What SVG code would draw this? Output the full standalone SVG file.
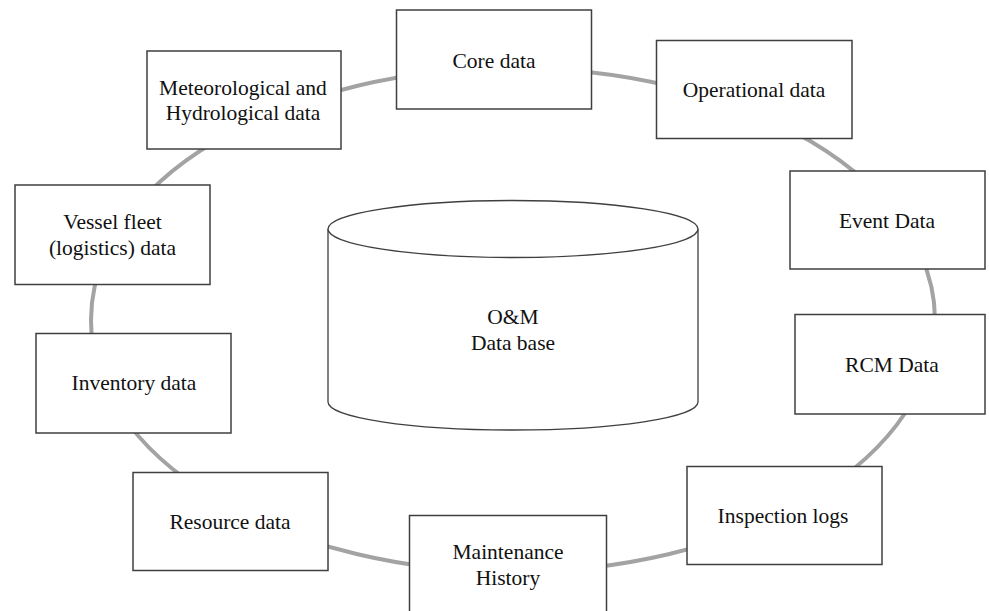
<svg xmlns="http://www.w3.org/2000/svg" width="989" height="611" viewBox="0 0 989 611">
<style>
.box{fill:#fff;stroke:#3f3f3f;stroke-width:1.5}
.t{font-family:"Liberation Serif","Times New Roman",serif;font-size:21.5px;fill:#111;text-anchor:middle}
.ring{fill:none;stroke:#a3a3a3;stroke-width:4}
.cyl{fill:#fff;stroke:#3f3f3f;stroke-width:1.3}
</style>
<rect width="989" height="611" fill="#fff"/>
<g id="connectors">
<ellipse class="ring" cx="513" cy="320" rx="422" ry="252"/>
</g>
<g id="database">
<path class="cyl" d="M328,229 L328,402 A185,28 0 0 0 698,402 L698,229"/>
<ellipse class="cyl" cx="513" cy="229" rx="185" ry="28.5"/>
<text class="t" x="513" y="324">O&amp;M</text>
<text class="t" x="513" y="350">Data base</text>
</g>
<g id="core">
<rect class="box" x="396.5" y="10" width="195" height="99"/>
<text class="t" x="494" y="68">Core data</text>
</g>
<g id="operational">
<rect class="box" x="656.5" y="40.5" width="195.5" height="98"/>
<text class="t" x="754" y="97">Operational data</text>
</g>
<g id="event">
<rect class="box" x="790" y="171" width="195" height="98"/>
<text class="t" x="887" y="228">Event Data</text>
</g>
<g id="rcm">
<rect class="box" x="795" y="314.5" width="190" height="99.5"/>
<text class="t" x="892" y="372">RCM Data</text>
</g>
<g id="inspection">
<rect class="box" x="687" y="466.5" width="195" height="98"/>
<text class="t" x="783" y="523">Inspection logs</text>
</g>
<g id="maintenance">
<rect class="box" x="409.5" y="515.5" width="197" height="100"/>
<text class="t" x="508" y="559">Maintenance</text>
<text class="t" x="508" y="585">History</text>
</g>
<g id="resource">
<rect class="box" x="133" y="472.5" width="195" height="98"/>
<text class="t" x="230" y="529">Resource data</text>
</g>
<g id="inventory">
<rect class="box" x="36" y="333.5" width="195" height="99.5"/>
<text class="t" x="134" y="390">Inventory data</text>
</g>
<g id="vessel">
<rect class="box" x="15" y="185" width="195" height="99.5"/>
<text class="t" x="112.5" y="229">Vessel fleet</text>
<text class="t" x="112.5" y="255">(logistics) data</text>
</g>
<g id="meteo">
<rect class="box" x="147" y="51" width="194" height="98"/>
<text class="t" x="243" y="95">Meteorological and</text>
<text class="t" x="243" y="120">Hydrological data</text>
</g>
</svg>
